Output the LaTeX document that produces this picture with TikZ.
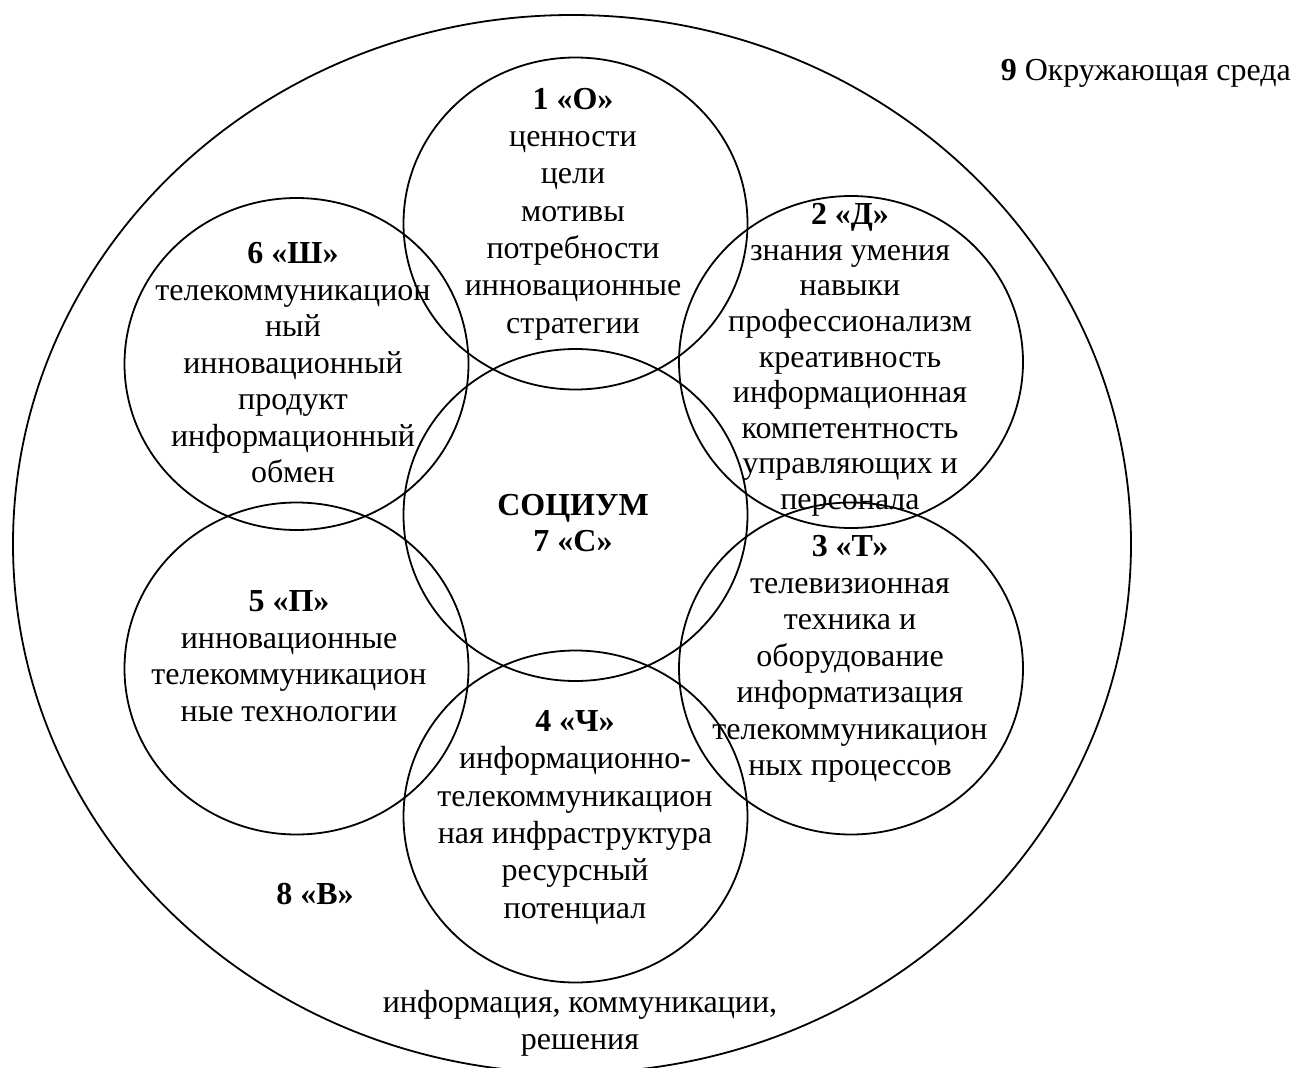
\documentclass[tikz,border=0pt]{standalone}
\usepackage{fontspec}
\setmainfont{Liberation Serif}
\usetikzlibrary{shapes.geometric}
\begin{document}
\begin{tikzpicture}[x=1pt,y=1pt,
  ring/.style={draw, line width=1.8pt, ellipse, inner sep=0pt, minimum width=344pt, minimum height=332pt},
  txt/.style={align=center, inner sep=0pt, font=\fontsize{32}{36.5}\selectfont},
  txtA/.style={txt, font=\fontsize{32}{37.3}\selectfont},
  txtB/.style={txt, font=\fontsize{32}{35.6}\selectfont},
]
\useasboundingbox (0,0) rectangle (1301,-1068);
\clip (0,0) rectangle (1301,-1068);
% outer environment ellipse
\node[draw, line width=1.8pt, ellipse, inner sep=0pt, minimum width=1118pt, minimum height=1058pt] (outer) at (572,-544) {};
% circles
\node[ring] (c1) at (575.5,-223.5) {};
\node[ring] (c2) at (851,-362) {};
\node[ring] (c3) at (851,-668.5) {};
\node[ring] (c4) at (575.5,-816.5) {};
\node[ring] (c5) at (296.5,-668.5) {};
\node[ring] (c6) at (296.5,-364) {};
\node[ring] (c7) at (575.5,-515) {};
% texts
\node[txtA] (t1) at (573,-214) {\textbf{1 «О»}\\ценности\\цели\\мотивы\\потребности\\инновационные\\стратегии};
\node[txtB] (t2) at (850,-360) {\textbf{2 «Д»}\\знания умения\\навыки\\профессионализм\\креативность\\информационная\\компетентность\\управляющих и\\персонала};
\node[txt] (t3) at (850,-659) {\textbf{3 «Т»}\\телевизионная\\техника и\\оборудование\\информатизация\\телекоммуникацион\\ных процессов};
\node[txtA] (t4) at (575,-817.5) {\textbf{4 «Ч»}\\информационно-\\телекоммуникацион\\ная инфраструктура\\ресурсный\\потенциал};
\node[txt] (t5) at (289,-656) {\textbf{5 «П»}\\инновационные\\телекоммуникацион\\ные технологии};
\node[txt] (t6) at (293,-363) {\textbf{6 «Ш»}\\телекоммуникацион\\ный\\инновационный\\продукт\\информационный\\обмен};
\node[txt] (t7) at (573,-523) {\textbf{СОЦИУМ}\\\textbf{7 «С»}};
\node[txt] (t8) at (315,-894) {\textbf{8 «В»}};
\node[txt] (tb) at (580,-1023.5) {информация, коммуникации,\\решения};
\node[txt, anchor=east] (t9) at (1291,-73) {\textbf{9} Окружающая среда};
\end{tikzpicture}
\end{document}
